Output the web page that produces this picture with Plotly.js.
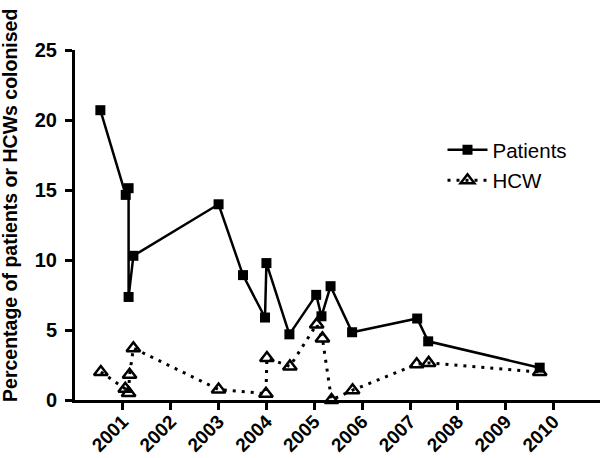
<!DOCTYPE html>
<html>
<head>
<meta charset="utf-8">
<script src="https://cdn.plot.ly/plotly-3.0.1.min.js"></script>
<style>html,body{margin:0;padding:0;background:#fff;}#chart{width:600px;height:458px;}</style>
</head>
<body>
<div id="chart"></div>
<script>
// Patients series (decimal year, % colonised)
const patientsYear = [2000.53, 2001.06, 2001.12, 2001.12, 2001.22, 2003.00, 2003.51, 2003.97, 2004.00, 2004.48, 2005.04, 2005.15, 2005.34, 2005.79, 2007.15, 2007.38, 2009.71];
const patientsPct  = [20.7, 14.65, 15.13, 7.36, 10.3, 13.98, 8.92, 5.89, 9.78, 4.69, 7.51, 5.98, 8.13, 4.84, 5.82, 4.19, 2.31];
// HCW series
const hcwYear = [2000.54, 2001.05, 2001.12, 2001.14, 2001.22, 2003.00, 2003.99, 2004.01, 2004.49, 2005.05, 2005.17, 2005.36, 2005.80, 2007.14, 2007.39, 2009.71];
const hcwPct  = [2.0, 0.8, 0.5, 1.8, 3.7, 0.75, 0.45, 3.0, 2.4, 5.4, 4.4, 0.0, 0.7, 2.55, 2.65, 2.0];
// axis ticks
const xTickVals = [2001, 2002, 2003, 2004, 2005, 2006, 2007, 2008, 2009, 2010];
const xTickText = ['2001', '2002', '2003', '2004', '2005', '2006', '2007', '2008', '2009', '2010'];
const yTickVals = [0, 5, 10, 15, 20, 25];
const yTitle = 'Percentage of patients or HCWs colonised';

const FONT = 'Liberation Sans, Arial, Helvetica, sans-serif';

const traces = [
  {
    x: patientsYear, y: patientsPct, name: 'Patients', type: 'scatter', mode: 'lines+markers',
    line: {color: '#000', width: 2.5},
    marker: {symbol: 'square', size: 10, color: '#000'},
    cliponaxis: false, legendgroup: 'a'
  },
  {
    x: hcwYear, y: hcwPct, name: 'HCW', type: 'scatter', mode: 'lines+markers',
    line: {color: '#000', width: 3, dash: '3px,6px'},
    marker: {symbol: 'triangle-up-open', size: 12, color: '#000', line: {width: 2.5, color: '#000'}},
    cliponaxis: false, legendgroup: 'b'
  }
];

const layout = {
  width: 600, height: 458,
  margin: {l: 75, r: 0, t: 50, b: 58},
  paper_bgcolor: '#fff', plot_bgcolor: '#fff',
  showlegend: true,
  legend: {
    x: 0.70, y: 0.772, xanchor: 'left', yanchor: 'top',
    font: {family: FONT, size: 20.5, color: '#000'},
    bgcolor: 'rgba(0,0,0,0)', traceorder: 'grouped', tracegroupgap: 1,
    itemwidth: 40
  },
  xaxis: {
    range: [2000, 2010.97], showgrid: false, zeroline: false,
    showline: true, linecolor: '#000', linewidth: 3,
    ticks: 'outside', ticklen: 7, tickwidth: 3, tickcolor: '#000',
    tickvals: xTickVals, ticktext: xTickText, tickangle: -45, ticklabelstandoff: -7,
    tickfont: {family: FONT, size: 19, color: '#000', weight: 'bold'}
  },
  yaxis: {
    range: [0, 25], showgrid: false, zeroline: false,
    showline: true, linecolor: '#000', linewidth: 3,
    ticks: 'outside', ticklen: 7, tickwidth: 3, tickcolor: '#000',
    tickvals: yTickVals, ticklabelstandoff: 4,
    tickfont: {family: FONT, size: 20, color: '#000', weight: 'bold'}
  },
  annotations: [{
    text: yTitle, xref: 'paper', yref: 'paper', x: -0.124, y: 0.557,
    xanchor: 'center', yanchor: 'middle', textangle: -90, showarrow: false,
    font: {family: FONT, size: 19.5, color: '#000', weight: 'bold'}
  }]
};

Plotly.newPlot('chart', traces, layout, {displayModeBar: false, staticPlot: true});
</script>
</body>
</html>
